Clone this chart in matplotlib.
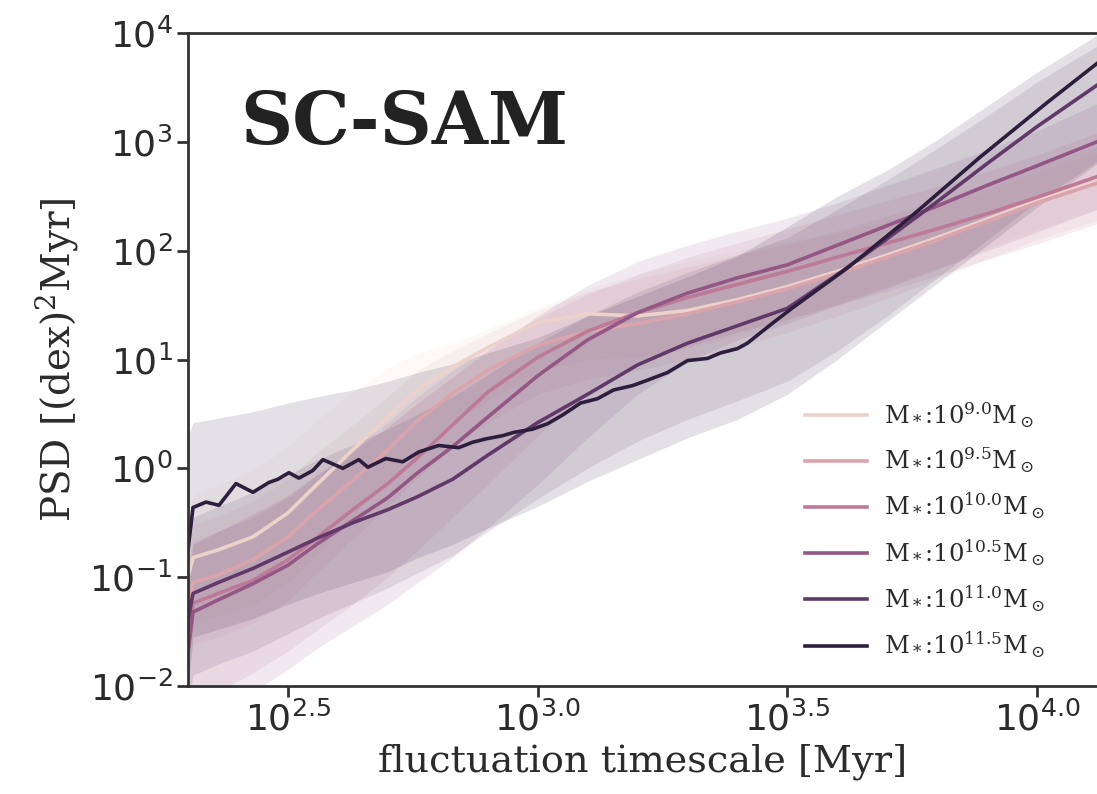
import matplotlib
matplotlib.use("Agg")
import matplotlib.pyplot as plt
from matplotlib.ticker import FixedLocator, NullLocator
from matplotlib.font_manager import FontProperties
import numpy as np
import seaborn as sns

###############################################################################
# DATA (log10 values)
###############################################################################
labels = [r"M$_*$:10$^{9.0}$M$_\odot$", r"M$_*$:10$^{9.5}$M$_\odot$",
          r"M$_*$:10$^{10.0}$M$_\odot$", r"M$_*$:10$^{10.5}$M$_\odot$",
          r"M$_*$:10$^{11.0}$M$_\odot$", r"M$_*$:10$^{11.5}$M$_\odot$"]

# common log10(timescale) grid
log_t = [2.30, 2.31, 2.36, 2.43, 2.50, 2.56, 2.63, 2.70, 2.76, 2.83, 2.90, 3.00,
         3.10, 3.20, 3.30, 3.40, 3.50, 3.60, 3.70, 3.80, 3.90, 4.00, 4.12]

# median log10(PSD)
med_90 = [-1.00, -0.82, -0.75, -0.63, -0.41, -0.14, 0.17, 0.47, 0.72, 0.93, 1.11, 1.34,
          1.42, 1.40, 1.45, 1.55, 1.67, 1.81, 1.96, 2.12, 2.29, 2.46, 2.65]
med_95 = [-1.30, -1.05, -0.98, -0.84, -0.63, -0.38, -0.11, 0.17, 0.44, 0.69, 0.90, 1.13,
          1.26, 1.33, 1.42, 1.53, 1.65, 1.79, 1.94, 2.10, 2.27, 2.44, 2.62]
med_100 = [-1.60, -1.24, -1.15, -1.03, -0.84, -0.63, -0.38, -0.14, 0.10, 0.40, 0.70, 1.02,
           1.26, 1.43, 1.57, 1.69, 1.81, 1.94, 2.07, 2.20, 2.34, 2.49, 2.68]
med_105 = [-1.70, -1.32, -1.21, -1.06, -0.89, -0.69, -0.48, -0.27, -0.04, 0.20, 0.47, 0.85,
           1.18, 1.43, 1.61, 1.75, 1.87, 2.05, 2.23, 2.41, 2.60, 2.78, 3.00]
med_110 = [-1.40, -1.15, -1.05, -0.92, -0.77, -0.64, -0.50, -0.38, -0.26, -0.10, 0.12, 0.42,
           0.68, 0.95, 1.15, 1.31, 1.47, 1.78, 2.11, 2.45, 2.80, 3.14, 3.52]

# the most massive bin is noisy, it has its own grid
log_t_115 = [2.300, 2.31, 2.336, 2.362, 2.396, 2.43, 2.462, 2.48, 2.502, 2.522, 2.55,
             2.57, 2.61, 2.642, 2.66, 2.696, 2.73, 2.762, 2.802, 2.842, 2.87, 2.896,
             2.93, 2.952, 2.99, 3.02, 3.05, 3.086, 3.12, 3.152, 3.19, 3.22, 3.26, 3.30,
             3.34, 3.366, 3.40, 3.42, 3.472, 3.512, 3.62, 3.752, 3.886, 4.02, 4.12]
med_115 = [-0.75, -0.36, -0.31, -0.34, -0.14, -0.22, -0.13, -0.10, -0.04, -0.09, -0.02,
           0.08, 0.00, 0.08, 0.01, 0.09, 0.06, 0.15, 0.21, 0.19, 0.24, 0.27,
           0.30, 0.33, 0.36, 0.41, 0.49, 0.60, 0.64, 0.72, 0.76, 0.81, 0.88, 0.99,
           1.01, 1.06, 1.10, 1.15, 1.34, 1.48, 1.84, 2.33, 2.86, 3.36, 3.72]

# 16-84 percentile bands, log10(PSD), on log_t
lo_90 = [-1.60, -1.42, -1.35, -1.25, -1.05, -0.78, -0.45, -0.10, 0.18, 0.42, 0.62, 0.88,
         1.00, 1.02, 1.10, 1.22, 1.36, 1.52, 1.68, 1.85, 2.02, 2.20, 2.38]
hi_90 = [-0.40, -0.25, -0.15, -0.02, 0.20, 0.45, 0.70, 0.92, 1.06, 1.15, 1.28, 1.48,
         1.65, 1.78, 1.90, 2.00, 2.08, 2.16, 2.27, 2.40, 2.56, 2.72, 2.90]
lo_95 = [-1.90, -1.62, -1.55, -1.42, -1.22, -0.95, -0.65, -0.35, -0.08, 0.20, 0.42, 0.68,
         0.82, 0.90, 1.00, 1.12, 1.25, 1.40, 1.56, 1.74, 1.92, 2.10, 2.28]
hi_95 = [-0.75, -0.52, -0.44, -0.30, -0.10, 0.15, 0.40, 0.66, 0.90, 1.08, 1.24, 1.45,
         1.62, 1.74, 1.85, 1.96, 2.06, 2.18, 2.32, 2.46, 2.62, 2.78, 2.96]
lo_100 = [-2.50, -2.20, -2.05, -1.88, -1.68, -1.48, -1.25, -1.00, -0.75, -0.45, -0.15, 0.30,
          0.68, 0.95, 1.12, 1.25, 1.37, 1.50, 1.63, 1.77, 1.92, 2.06, 2.25]
hi_100 = [-1.00, -0.68, -0.58, -0.45, -0.27, -0.06, 0.18, 0.42, 0.66, 0.90, 1.10, 1.38,
          1.60, 1.78, 1.94, 2.07, 2.20, 2.33, 2.46, 2.59, 2.73, 2.88, 3.08]
lo_105 = [-2.60, -2.40, -2.25, -2.05, -1.85, -1.65, -1.45, -1.25, -1.05, -0.82, -0.55, -0.15,
          0.28, 0.68, 0.98, 1.18, 1.33, 1.50, 1.66, 1.83, 2.00, 2.17, 2.38]
hi_105 = [-1.05, -0.70, -0.58, -0.42, -0.25, -0.05, 0.16, 0.38, 0.60, 0.84, 1.08, 1.40,
          1.68, 1.90, 2.05, 2.18, 2.30, 2.44, 2.60, 2.76, 2.93, 3.10, 3.35]
lo_110 = [-2.20, -1.90, -1.80, -1.68, -1.52, -1.38, -1.24, -1.10, -0.96, -0.80, -0.58, -0.28,
          0.00, 0.25, 0.45, 0.62, 0.80, 1.08, 1.40, 1.75, 2.10, 2.45, 2.82]
hi_110 = [-0.70, -0.45, -0.35, -0.22, -0.06, 0.08, 0.22, 0.36, 0.50, 0.66, 0.86, 1.15,
          1.40, 1.62, 1.80, 1.96, 2.12, 2.38, 2.65, 2.94, 3.24, 3.55, 3.88]
lo_115 = [-2.00, -1.55, -1.48, -1.38, -1.25, -1.15, -1.05, -0.95, -0.82, -0.70, -0.55, -0.35,
          -0.12, 0.08, 0.28, 0.45, 0.68, 1.00, 1.35, 1.70, 2.05, 2.40, 2.80]
hi_115 = [0.30, 0.42, 0.46, 0.52, 0.60, 0.66, 0.72, 0.80, 0.88, 0.96, 1.06, 1.20,
          1.40, 1.58, 1.76, 1.95, 2.22, 2.50, 2.74, 3.02, 3.33, 3.64, 3.98]

xtick_pos = [2.5, 3.0, 3.5, 4.0]
ytick_pos = [-2, -1, 0, 1, 2, 3, 4]

###############################################################################
# PLOT
###############################################################################
colors = sns.cubehelix_palette(6)
series = [(log_t, med_90, lo_90, hi_90), (log_t, med_95, lo_95, hi_95),
          (log_t, med_100, lo_100, hi_100), (log_t, med_105, lo_105, hi_105),
          (log_t, med_110, lo_110, hi_110), (log_t_115, med_115, lo_115, hi_115)]

txt = "#2b2b2b"
fig = plt.figure(figsize=(10.97, 7.94), dpi=100)
ax = fig.add_axes([188 / 1097, 1 - 686 / 794, 1 - 188 / 1097, 653 / 794])
ax.set_xscale("log")
ax.set_yscale("log")

t_band = 10 ** np.array(log_t)
for num, (xs, med, lo, hi) in enumerate(series):
    ax.fill_between(t_band, 10 ** np.array(lo), 10 ** np.array(hi),
                    color=colors[num], alpha=0.13, lw=0)
for num, (xs, med, lo, hi) in enumerate(series):
    ax.plot(10 ** np.array(xs), 10 ** np.array(med), color=colors[num], lw=2.6,
            label=labels[num])

ax.set_xlim(10 ** 2.3, 10 ** 4.12)
ax.set_ylim(1e-2, 1e4)

ax.xaxis.set_major_locator(FixedLocator([10 ** v for v in xtick_pos]))
ax.xaxis.set_minor_locator(NullLocator())
ax.set_xticklabels([r"$10^{%.1f}$" % v for v in xtick_pos])
ax.yaxis.set_major_locator(FixedLocator([10.0 ** v for v in ytick_pos]))
ax.yaxis.set_minor_locator(NullLocator())
ax.set_yticklabels([r"$10^{%d}$" % v for v in ytick_pos])
ax.tick_params(labelsize=26, length=8, width=2, color="#333333", labelcolor=txt, pad=3)

for side in ["left", "bottom", "top"]:
    ax.spines[side].set_linewidth(2)
    ax.spines[side].set_color("#333333")
ax.spines["right"].set_visible(False)

ax.set_xlabel("fluctuation timescale [Myr]", family="DejaVu Serif", fontsize=27.5,
              color=txt, math_fontfamily="dejavuserif", labelpad=4)
ax.set_ylabel(r"PSD [(dex)$^2$Myr]", family="DejaVu Serif", fontsize=28, color=txt,
              math_fontfamily="dejavuserif", labelpad=7)

ax.text(0.057, 0.862, "SC-SAM", transform=ax.transAxes, family="DejaVu Serif",
        fontsize=52, fontweight="bold", color="#222222", va="center", ha="left")

leg_font = FontProperties(family="DejaVu Serif", size=17.5, math_fontfamily="dejavuserif")
ax.legend(loc="upper left", bbox_to_anchor=(805 / 1097, 1 - 400 / 794),
          bbox_transform=fig.transFigure, frameon=False, prop=leg_font,
          borderpad=0, borderaxespad=0, handlelength=2.55, handletextpad=0.7,
          labelspacing=0.655, labelcolor=txt)

plt.savefig("out.png", dpi=100)
plt.close()
